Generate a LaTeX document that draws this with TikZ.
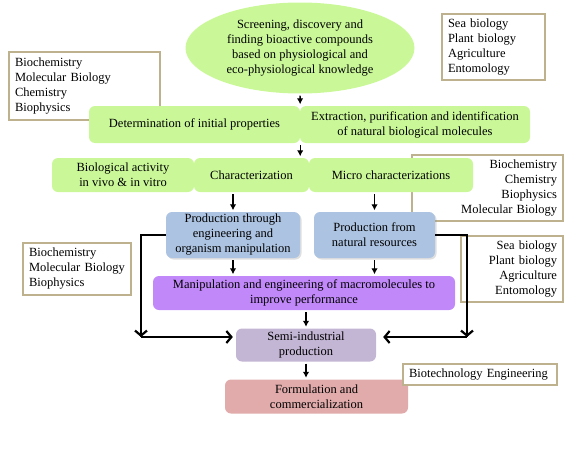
\documentclass[tikz,border=0pt]{standalone}
\usepackage{fontspec}
\setmainfont{Liberation Serif}
\usetikzlibrary{shapes.geometric,arrows.meta,shadows}

\definecolor{leafgreen}{RGB}{202,248,152}
\definecolor{steelblue}{RGB}{172,195,225}
\definecolor{lilac}{RGB}{193,136,250}
\definecolor{mauve}{RGB}{195,181,212}
\definecolor{rosy}{RGB}{225,171,171}
\definecolor{boxline}{RGB}{190,178,142}

\begin{document}
\begin{tikzpicture}[x=1pt, y=-1pt,
    every node/.style={font=\fontsize{12.5}{15}\selectfont, inner sep=0pt, align=center},
    stage/.style={rectangle, rounded corners=6pt, fill=#1, minimum height=34pt},
    field/.style={rectangle, draw=boxline, fill=white, line width=1.1pt, inner xsep=6pt},
    blueshade/.style={drop shadow={opacity=0.25, shadow xshift=1.5pt, shadow yshift=-1.5pt}},
    arr/.style={-{Latex[length=6pt,width=6.5pt]}, line width=1.4pt, shorten <=2pt, shorten >=1.5pt},
    bigline/.style={line width=2.2pt},
    bigarr/.style={line width=2.2pt, -{Straight Barb[length=5pt,width=12pt]}}]

    \useasboundingbox (0, 0) rectangle (567, 455);

    % Disciplines
    \node[field, text width=139pt, align=left, minimum height=68pt] at (84.5, 86) (fieldA) {Biochemistry\\Molecular Biology\\Chemistry\\Biophysics};
    \node[field, text width=91pt, align=left, minimum height=66pt] at (493.5, 47) (fieldB) {Sea biology\\Plant biology\\Agriculture\\Entomology};
    \node[field, text width=139pt, align=right, minimum height=66pt] at (487.5, 188) (fieldC) {Biochemistry\\Chemistry\\Biophysics\\Molecular Biology};
    \node[field, text width=96pt, align=left, minimum height=52pt] at (77, 269) (fieldD) {Biochemistry\\Molecular Biology\\Biophysics};
    \node[field, text width=90pt, align=right, minimum height=66pt] at (512, 269) (fieldE) {Sea biology\\Plant biology\\Agriculture\\Entomology};

    % Nodes
    \node[ellipse, fill=leafgreen, minimum width=229pt, minimum height=91pt] at (300, 48) (screen) {Screening, discovery and\\finding bioactive compounds\\based on physiological and\\eco-physiological knowledge};
    \node[stage=leafgreen, minimum width=211pt, minimum height=37pt] at (194.5, 124.5) (det) {Determination of initial properties};
    \node[stage=leafgreen, minimum width=230pt, minimum height=37pt] at (415, 124.5) (extr) {Extraction, purification and identification\\of natural biological molecules};
    \node[stage=leafgreen, minimum width=142pt] at (123, 175) (bioact) {Biological activity\\in vivo \& in vitro};
    \node[stage=leafgreen, minimum width=115pt] at (251.5, 175) (charac) {Characterization};
    \node[stage=leafgreen, minimum width=164pt] at (391, 175) (micro) {Micro characterizations};
    \node[stage=steelblue, blueshade, minimum width=134pt, minimum height=46pt] at (233, 235) (prodEng) {Production through\\engineering and\\organism manipulation};
    \node[stage=steelblue, blueshade, minimum width=121pt, minimum height=46pt] at (374.5, 235) (prodNat) {Production from\\natural resources};
    \node[stage=lilac, minimum width=302pt] at (304, 293) (manip) {Manipulation and engineering of macromolecules to\\improve performance};
    \node[stage=mauve, minimum width=140pt, minimum height=33pt] at (306, 345) (semi) {Semi-industrial\\production};
    \node[stage=rosy, minimum width=183pt] at (316.5, 396.5) (formul) {Formulation and\\commercialization};
    \node[field, text width=142pt, align=left, minimum height=21pt] at (480, 374.5) (biotech) {Biotechnology Engineering};

    \draw[arr] (screen.south) -- (det.north east);
    \draw[arr] (det.south east) -- (det.south east |- charac.north);
    \draw[arr] (charac.south -| prodEng.north) -- (prodEng.north);
    \draw[arr] (micro.south -| prodNat.north) -- (prodNat.north);
    \draw[arr] (prodEng.south) -- (prodEng.south |- manip.north);
    \draw[arr] (prodNat.south) -- (prodNat.south |- manip.north);
    \draw[arr] (manip.south -| semi.north) -- (semi.north);
    \draw[arr] (semi.south) -- (semi.south |- formul.north);

    % Side routes
    \coordinate (engTurn) at (141, 337);
    \coordinate (natTurn) at (467, 337);
    \draw[bigline] (prodEng.west) -| (engTurn);
    \draw[bigarr] (prodEng.west -| engTurn) -- (engTurn);
    \draw[bigarr, shorten >=3pt] (engTurn) -- (engTurn -| semi.west);
    \draw[bigline] (prodNat.east) -| (natTurn);
    \draw[bigarr] (prodNat.east -| natTurn) -- (natTurn);
    \draw[bigarr, shorten >=7pt] (natTurn) -- (natTurn -| semi.east);

\end{tikzpicture}
\end{document}
